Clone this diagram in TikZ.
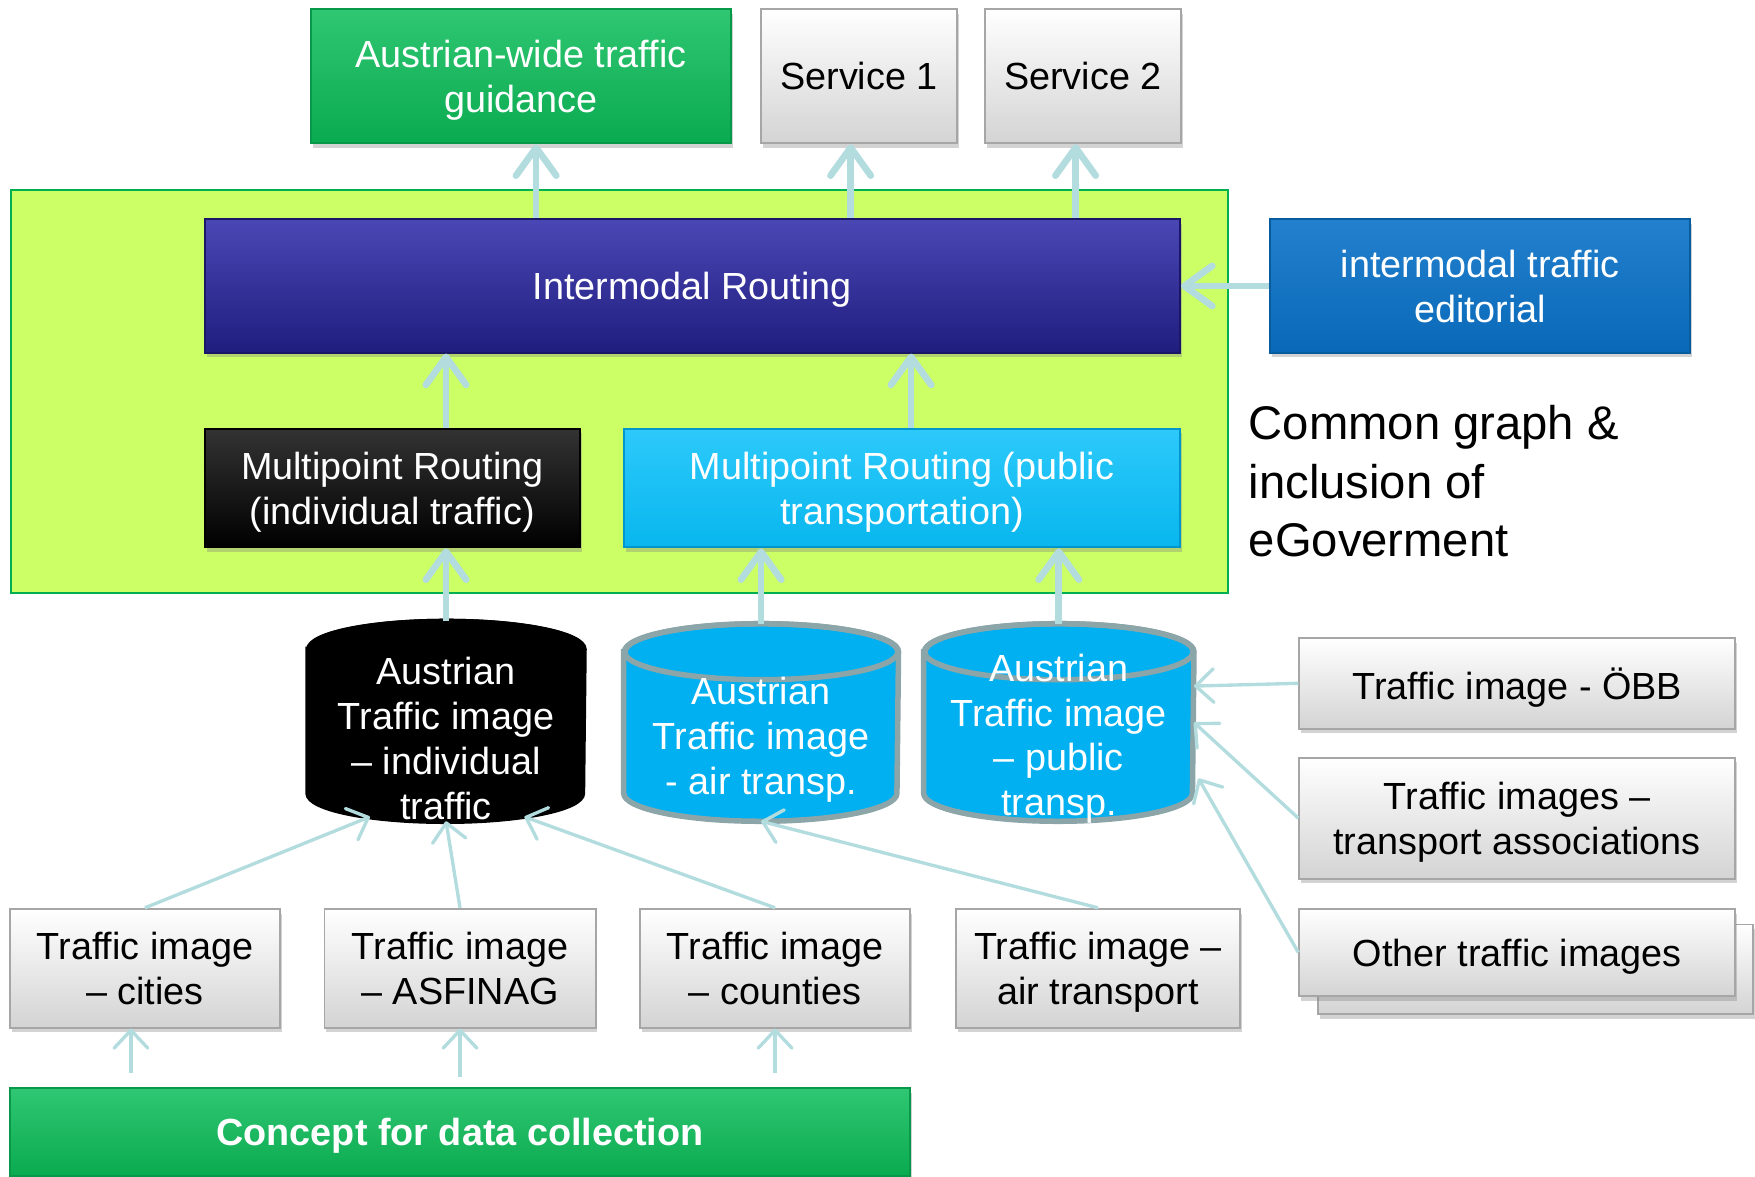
\documentclass[tikz,border=0pt]{standalone}
\usepackage{fontspec}
\setmainfont{Liberation Sans}
\usetikzlibrary{arrows.meta,shadows}
\definecolor{greenfill}{HTML}{0BBD59}
\definecolor{greenline}{HTML}{07984A}
\definecolor{limefill}{HTML}{CCFF66}
\definecolor{limeline}{HTML}{00B050}
\definecolor{bluefill}{HTML}{2A27A8}
\definecolor{blueline}{HTML}{1A1766}
\definecolor{edfill}{HTML}{0A72C8}
\definecolor{edline}{HTML}{075C9E}
\definecolor{cyanfill}{HTML}{08C0FA}
\definecolor{cyanline}{HTML}{0095CC}
\definecolor{cylfill}{HTML}{00B0F0}
\definecolor{cylline}{HTML}{8CA5A8}
\definecolor{greyline}{HTML}{A6A6A6}
\definecolor{arrowcol}{HTML}{B3DCDF}
\tikzset{
  box/.style={rectangle, draw, line width=0.5pt, align=center, inner sep=0pt, text depth=0pt,
    font=\fontsize{9.6}{11.4}\selectfont,
    drop shadow={shadow xshift=0.5pt, shadow yshift=-1.2pt, opacity=0.35}},
  greybox/.style={box, top color=white, bottom color=black!17, draw=greyline, text=black},
  greenbox/.style={box, top color=greenfill!85!white, bottom color=greenfill!90!black, draw=greenline, text=white},
  dbbox/.style={rectangle, inner sep=0pt, minimum width=2.45cm, minimum height=1.77cm},
  dbtext/.style={text=white, align=center, font=\fontsize{9.6}{11.4}\selectfont},
  thickarr/.style={draw=arrowcol, line width=1.7pt, -{Straight Barb[length=0.25cm, width=0.36cm, round]}},
  thinarr/.style={draw=arrowcol, line width=0.85pt, -{Straight Barb[length=0.16cm, width=0.3cm, round]}}
}
\begin{document}
\begin{tikzpicture}[x=0.01cm, y=-0.01cm]
  \useasboundingbox (0,0) rectangle (1568,1051);
  % Common graph area
  \draw[fill=limefill, draw=limeline, line width=0.6pt] (10,170) rectangle (1097,530);
  % Nodes
  \node (AWT) [greenbox, minimum width=3.75cm, minimum height=1.2cm] at (465.5,68) {Austrian-wide traffic\\guidance};
  \node (S1) [greybox, minimum width=1.75cm, minimum height=1.2cm] at (767.5,68) {Service 1};
  \node (S2) [greybox, minimum width=1.75cm, minimum height=1.2cm] at (967.5,68) {Service 2};
  \node (IR) [box, top color=bluefill!85!white, bottom color=bluefill!75!black, draw=blueline, text=white,
    minimum width=8.71cm, minimum height=1.19cm] at (618.5,255.5) {Intermodal Routing};
  \node (ED) [box, top color=edfill!90!white, bottom color=edfill!92!black, draw=edline, text=white,
    minimum width=3.75cm, minimum height=1.19cm] at (1322.5,255.5) {intermodal traffic\\editorial};
  \node (MPI) [box, top color=black!80, bottom color=black, draw=black, text=white,
    minimum width=3.35cm, minimum height=1.06cm] at (350.5,436) {Multipoint Routing\\(individual traffic)};
  \node (MPP) [box, top color=cyanfill!85!white, bottom color=cyanfill!95!black, draw=cyanline, text=white,
    minimum width=4.96cm, minimum height=1.06cm] at (806,436) {Multipoint Routing (public\\transportation)};
  \node (CG) [anchor=west, align=left, inner sep=0pt, font=\fontsize{12}{14.8}\selectfont] at (1115,430) {Common graph \&\\inclusion of\\eGoverment};
  % Traffic images
  \node (TII) [dbbox] at (398.5,644.5) {};
  \node (TIA) [dbbox, minimum width=2.44cm, minimum height=1.75cm] at (680,645.5) {};
  \node (TIP) [dbbox, minimum width=2.4cm, minimum height=1.75cm] at (946,645.5) {};
  \foreach \n/\f/\d/\r in {TII/black/black/1.225, TIA/cylfill/cylline/1.22, TIP/cylfill/cylline/1.2} {
    \draw[draw=\d, fill=\f, line width=1.4pt] ([yshift=-0.25cm]\n.north west) -- ([yshift=0.25cm]\n.south west)
      arc[start angle=180, end angle=360, x radius=\r cm, y radius=0.25cm] -- ([yshift=-0.25cm]\n.north east)
      arc[start angle=0, end angle=180, x radius=\r cm, y radius=0.25cm] -- cycle;
    \draw[draw=\d, line width=1.4pt] ([yshift=-0.25cm]\n.north) ellipse[x radius=\r cm, y radius=0.25cm];
  }
  \node [dbtext] at (398.5,660) {Austrian\\Traffic image\\– individual\\traffic};
  \node [dbtext] at (680,661) {Austrian\\Traffic image\\- air transp.};
  \node [dbtext] at (946,660) {Austrian\\Traffic image\\– public\\transp.};
  \node (OBB) [greybox, minimum width=3.89cm, minimum height=0.81cm] at (1355.5,610.5) {Traffic image - ÖBB};
  \node (TAS) [greybox, minimum width=3.89cm, minimum height=1.08cm] at (1355.5,731) {Traffic images –\\transport associations};
  \node [greybox, minimum width=3.88cm, minimum height=0.8cm] at (1372,866) {};
  \node (OTH) [greybox, minimum width=3.89cm, minimum height=0.78cm] at (1355.5,851) {Other traffic images};
  \node (CIT) [greybox, minimum width=2.41cm, minimum height=1.06cm] at (129.5,865) {Traffic image\\– cities};
  \node (ASF) [greybox, minimum width=2.42cm, minimum height=1.06cm] at (411,865) {Traffic image\\– ASFINAG};
  \node (CNT) [greybox, minimum width=2.41cm, minimum height=1.06cm] at (692.5,865) {Traffic image\\– counties};
  \node (AIR) [greybox, minimum width=2.54cm, minimum height=1.06cm] at (981,865) {Traffic image –\\air transport};
  \node (CDC) [greenbox, font=\fontsize{9.6}{11.4}\selectfont\bfseries, minimum width=8.04cm, minimum height=0.79cm] at (411,1011.5) {Concept for data collection};
  % Arrows
  \draw[thickarr] ([xshift=0.135cm]AWT.south |- IR.north) -- ([xshift=0.135cm]AWT.south);
  \draw[thickarr] ([xshift=-0.075cm]S1.south |- IR.north) -- ([xshift=-0.075cm]S1.south);
  \draw[thickarr] ([xshift=-0.065cm]S2.south |- IR.north) -- ([xshift=-0.065cm]S2.south);
  \draw[thickarr] (ED.west) -- (IR.east);
  \draw[thickarr] (TII.north |- MPI.north) -- (TII.north |- IR.south);
  \draw[thickarr] ([xshift=0.08cm]MPP.north) -- ([xshift=0.08cm]MPP.north |- IR.south);
  \draw[thickarr] (TII.north) -- (TII.north |- MPI.south);
  \draw[thickarr] (TIA.north) -- (TIA.north |- MPP.south);
  \draw[thickarr] (TIP.north) -- (TIP.north |- MPP.south);
  \draw[thinarr] (CIT.north) -- ([xshift=-0.68cm, yshift=0.04cm]TII.south);
  \draw[thinarr] (ASF.north) -- (TII.south);
  \draw[thinarr] (CNT.north) -- ([xshift=0.7cm, yshift=0.04cm]TII.south);
  \draw[thinarr] (AIR.north) -- (TIA.south);
  \draw[thinarr] (OBB.west) -- ([yshift=0.325cm]TIP.east);
  \draw[thinarr] (TAS.west) -- (TIP.east);
  \draw[thinarr] (OTH.west) -- ([xshift=0.04cm, yshift=-0.5cm]TIP.east);
  \draw[thinarr, shorten <=0.12cm] ([xshift=-0.125cm]CIT.south |- CDC.north) -- ([xshift=-0.125cm]CIT.south);
  \draw[thinarr, shorten <=0.09cm] (ASF.south |- CDC.north) -- (ASF.south);
  \draw[thinarr, shorten <=0.12cm] (CNT.south |- CDC.north) -- (CNT.south);
\end{tikzpicture}
\end{document}
